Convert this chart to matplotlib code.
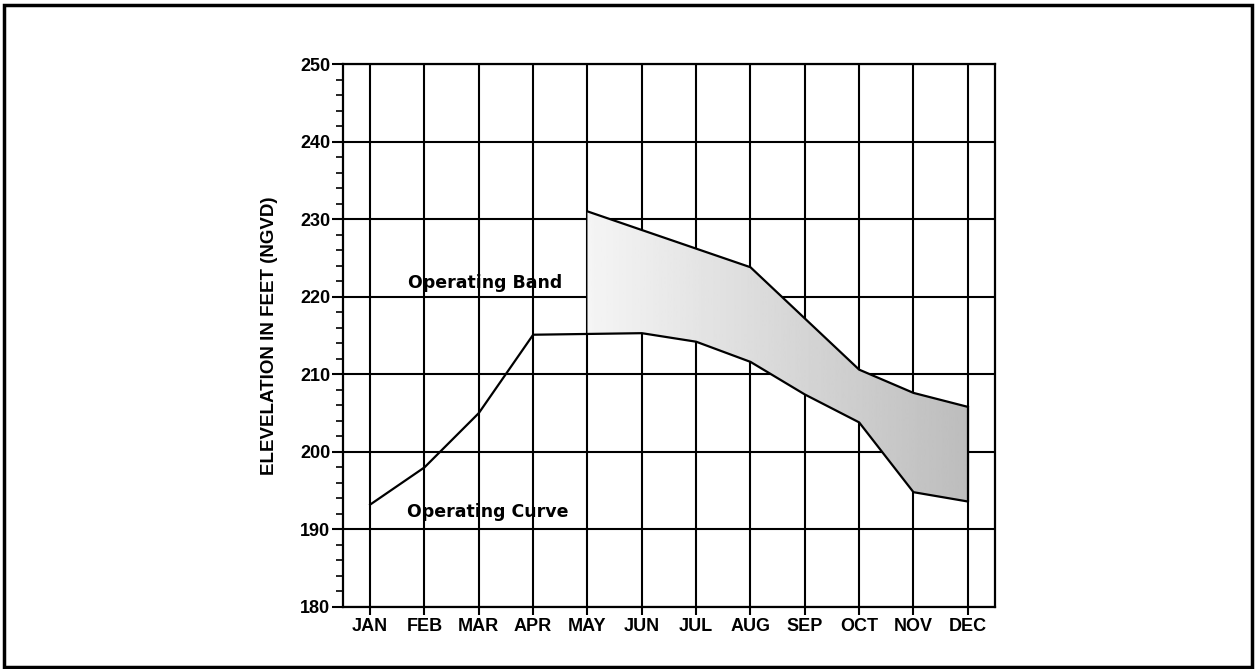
import numpy as np
import matplotlib.pyplot as plt
from matplotlib.patches import Polygon, Rectangle

plt.rcParams['font.family'] = ['Liberation Sans', 'DejaVu Sans']

months = ['JAN', 'FEB', 'MAR', 'APR', 'MAY', 'JUN', 'JUL', 'AUG', 'SEP', 'OCT', 'NOV', 'DEC']
# operating curve (lower line), one value per month
curve = [193.2, 198.0, 205.0, 215.1, 215.2, 215.3, 214.2, 211.6, 207.4, 203.8, 194.8, 193.6]
# upper edge of the operating band, MAY..DEC
band_months = months[4:]
band_top = [231.0, 228.6, 226.2, 223.8, 217.2, 210.6, 207.6, 205.8]
band_bottom = curve[4:]

fig = plt.figure(figsize=(12.55, 6.69), dpi=100)
ax = fig.add_axes([0.2733, 0.0927, 0.5195, 0.8116])

x = np.arange(len(months))
bx = np.arange(4, 4 + len(band_months))

# shaded band: grey gradient clipped to the band polygon, covers the grid
verts = list(zip(bx, band_top)) + list(zip(bx[::-1], band_bottom[::-1]))
poly = Polygon(verts, closed=True, facecolor='none', edgecolor='none')
ax.add_patch(poly)
grad = np.linspace(0.96, 0.74, 256).reshape(1, -1)
im = ax.imshow(grad, cmap='gray', vmin=0, vmax=1, aspect='auto',
               extent=[bx[0], bx[-1], 180, 250], zorder=1)
im.set_clip_path(poly)

ax.plot(x, curve, color='black', lw=1.6, zorder=3)
ax.plot(bx, band_top, color='black', lw=1.6, zorder=3)
ax.plot([bx[-1], bx[-1]], [band_bottom[-1], band_top[-1]], color='black', lw=1.6, zorder=3)

ax.set_xlim(-0.5, 11.5)
ax.set_ylim(180, 250)
ax.set_xticks(x)
ax.set_xticklabels(months, fontsize=13, fontweight='bold')
ax.set_yticks(np.arange(180, 251, 10))
ax.set_yticks(np.arange(180, 251, 2), minor=True)
for lab in ax.get_yticklabels():
    lab.set_fontweight('bold')
    lab.set_fontsize(13)
ax.tick_params(axis='x', length=6, width=1.5, direction='out', pad=2)
ax.tick_params(axis='y', which='major', length=8, width=1.5, direction='out', pad=1)
ax.tick_params(axis='y', which='minor', length=5, width=1.2, direction='out')
ax.set_axisbelow(True)
ax.grid(True, which='major', color='black', lw=1.5)
for s in ax.spines.values():
    s.set_linewidth(1.6)
    s.set_zorder(4)

ax.set_ylabel('ELEVELATION IN FEET (NGVD)', fontsize=13.5, fontweight='bold', labelpad=16)

ax.text(2.12, 221.8, 'Operating Band', fontsize=12.5, fontweight='bold', family='DejaVu Sans',
        ha='center', va='center', zorder=4)
ax.text(2.17, 192.3, 'Operating Curve', fontsize=12.5, fontweight='bold', family='DejaVu Sans',
        ha='center', va='center', zorder=4)

fig.patches.append(Rectangle((0.003, 0.003), 0.995, 0.99, transform=fig.transFigure,
                             fill=False, edgecolor='black', lw=2.5))

fig.savefig('out.png', dpi=100)
